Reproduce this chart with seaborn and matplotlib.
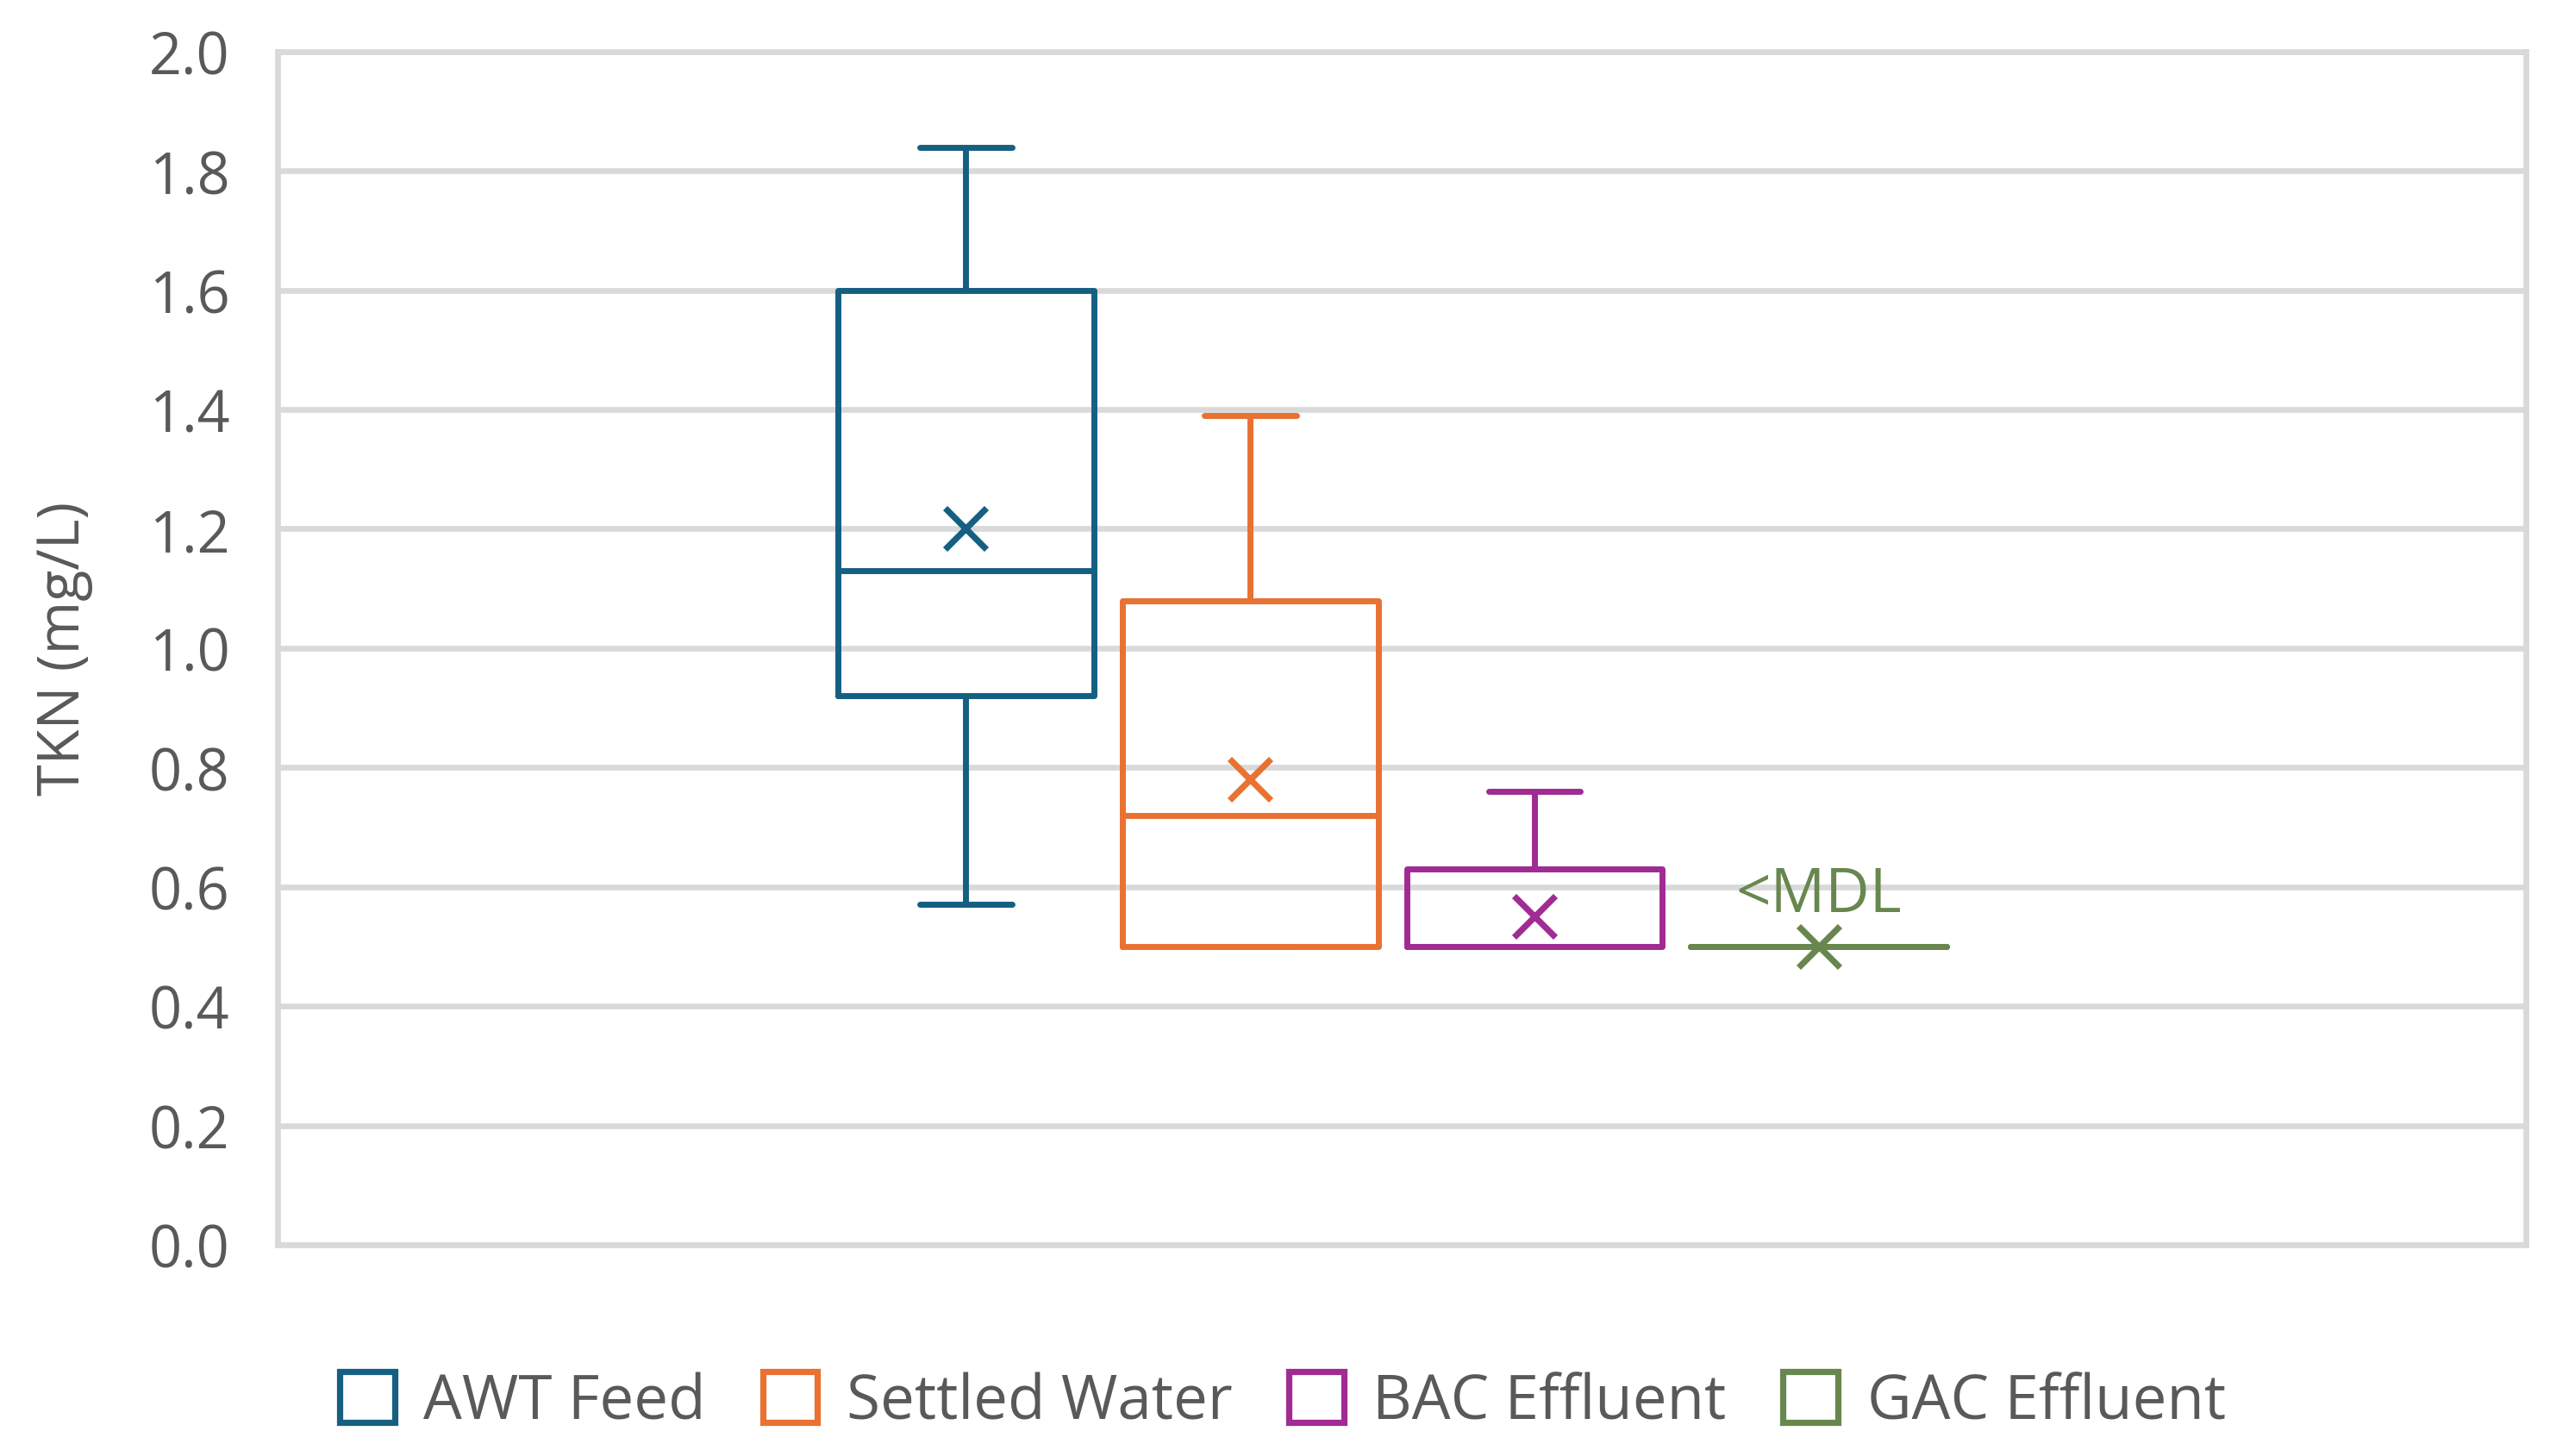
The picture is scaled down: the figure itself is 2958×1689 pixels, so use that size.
import numpy as np
import pandas as pd
import matplotlib
matplotlib.use("Agg")
import matplotlib.pyplot as plt
from matplotlib.patches import Patch
import seaborn as sns

# ---- data (five-number summaries) ----
series = ["AWT Feed", "Settled Water", "BAC Effluent", "GAC Effluent"]
awt_feed = [0.57, 0.92, 1.13, 1.60, 1.84]
settled_water = [0.50, 0.50, 0.72, 1.08, 1.39]
bac_effluent = [0.50, 0.50, 0.50, 0.63, 0.76]
gac_effluent = [0.50, 0.50, 0.50, 0.50, 0.50]
means = [1.20, 0.78, 0.55, 0.50]
colors = ["#156082", "#E97132", "#A02B93", "#68874E"]
yticks = [0.0, 0.2, 0.4, 0.6, 0.8, 1.0, 1.2, 1.4, 1.6, 1.8, 2.0]
annotation = "<MDL"
ylabel = "TKN (mg/L)"

values = [awt_feed, settled_water, bac_effluent, gac_effluent]
df = pd.DataFrame({
    "grp": ["TKN"] * sum(len(v) for v in values),
    "series": [s for s, v in zip(series, values) for _ in v],
    "val": [x for v in values for x in v],
})

sns.set_theme(style="white")
plt.rcParams["font.family"] = ["Open Sans", "DejaVu Sans"]
text_color = "#595959"
grid_color = "#D9D9D9"

fig = plt.figure(figsize=(14.79, 8.45), dpi=200)
ax = fig.add_axes([0.1089, 0.145, 0.8816, 0.819])

group_width = 0.506
gap = 0.1
lw = 2.5
sns.boxplot(
    data=df, x="grp", y="val", hue="series", hue_order=series,
    palette=colors, fill=False, width=group_width, gap=gap,
    whis=(0, 100), linewidth=lw, legend=False, ax=ax,
    capwidths=0.041, showfliers=False,
)

# mean markers at the dodged positions
slot = group_width / len(series)
for i, (m, c) in enumerate(zip(means, colors)):
    xpos = -group_width / 2 + slot * (i + 0.5)
    ax.plot([xpos], [m], marker="x", markersize=17, markeredgewidth=2.6,
            color=c, linestyle="none", zorder=5)
    if i == 3:
        ax.text(xpos, 0.559, annotation, color=c, fontsize=25.5,
                ha="center", va="baseline", zorder=6)

d = 0.0042
ax.set_xlim(-0.5 + d, 0.5 + d)
ax.set_ylim(0, 2.0)
ax.set_yticks(yticks)
ax.set_yticklabels([f"{t:.1f}" for t in yticks])
ax.set_xticks([])
ax.set_xlabel("")
ax.set_ylabel(ylabel, fontsize=24, color=text_color)
ax.yaxis.set_label_coords(-0.082, 0.5)
ax.tick_params(axis="y", length=0, pad=20, labelsize=24, labelcolor=text_color)
ax.yaxis.grid(True, color=grid_color, linewidth=2.4)
ax.set_axisbelow(True)
for sp in ax.spines.values():
    sp.set_color(grid_color)
    sp.set_linewidth(2.4)

handles = [Patch(facecolor="white", edgecolor=c, linewidth=2.6, label=s)
           for s, c in zip(series, colors)]
leg = fig.legend(handles=handles, loc="center", bbox_to_anchor=(0.503, 0.037),
                 ncol=4, frameon=False, fontsize=25.5, handlelength=0.9,
                 handleheight=0.9, handletextpad=0.47, columnspacing=0.93)
for t in leg.get_texts():
    t.set_color(text_color)

fig.savefig("out.png", dpi=200)
